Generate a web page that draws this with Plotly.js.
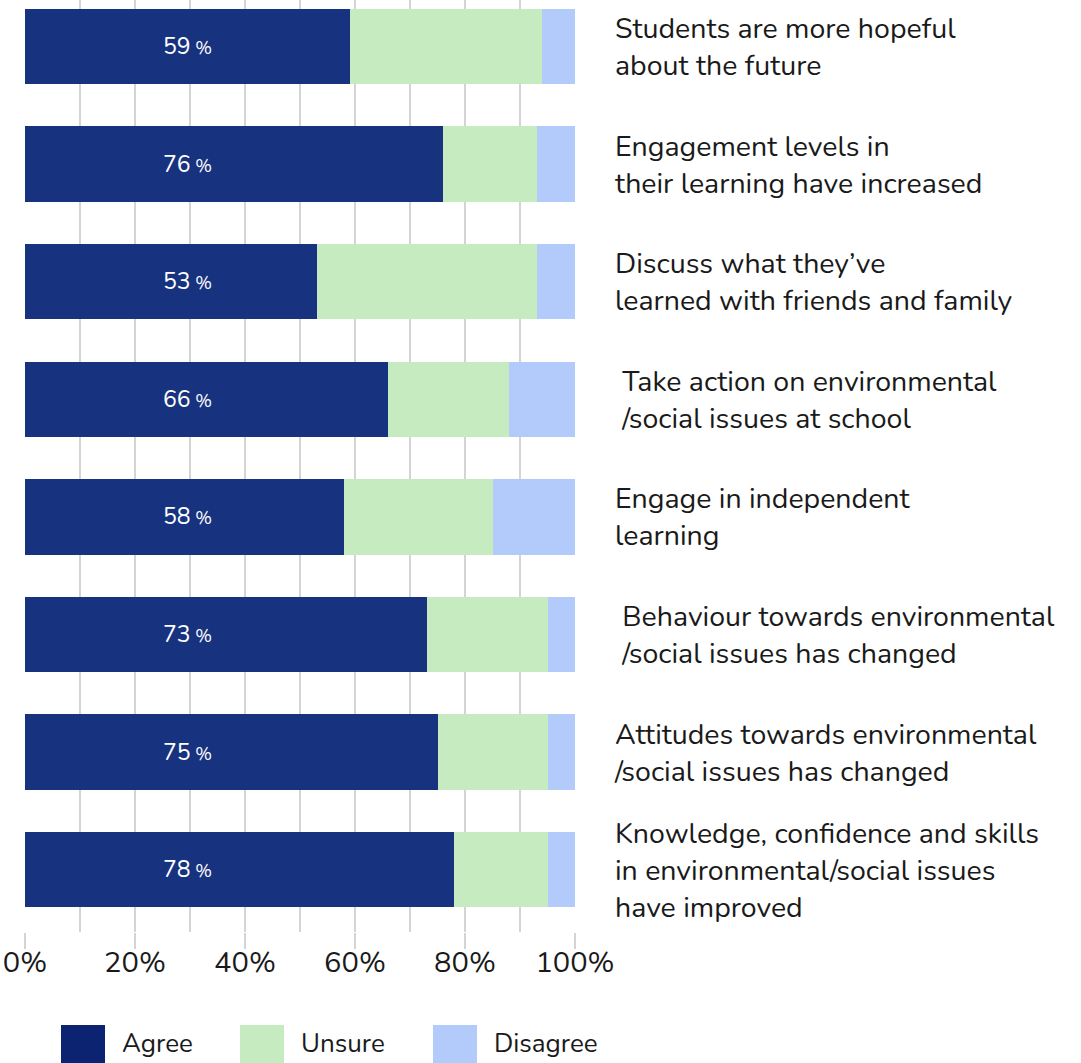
<!DOCTYPE html>
<html>
<head>
<meta charset="utf-8">
<script src="https://cdn.plot.ly/plotly-3.0.1.min.js"></script>
<style>html,body{margin:0;padding:0;background:#fff;}#chart{width:1081px;height:1063px;}</style>
</head>
<body>
<div id="chart"></div>
<script>
const categories = [
  "Students are more hopeful<br>about the future",
  "Engagement levels in<br>their learning have increased",
  "Discuss what they’ve<br>learned with friends and family",
  " Take action on environmental<br> /social issues at school",
  "Engage in independent<br>learning",
  " Behaviour towards environmental<br> /social issues has changed",
  "Attitudes towards environmental<br>/social issues has changed",
  "Knowledge, confidence and skills<br>in environmental/social issues<br>have improved"
];
const agree    = [59, 76, 53, 66, 58, 73, 75, 78];
const unsure   = [35, 17, 40, 22, 27, 22, 20, 17];
const disagree = [ 6,  7,  7, 12, 15,  5,  5,  5];
const seriesNames = ["Agree", "Unsure", "Disagree"];
const xTickVals = [0, 20, 40, 60, 80, 100];
const xTickText = ["0%", "20%", "40%", "60%", "80%", "100%"];

const colors = ["#17337f", "#c7ebc1", "#b3cbfa"];
const legendColors = ["#0b2370", "#c7ebc1", "#b3cbfa"];
const FONT = "Nunito, 'Noto Sans', 'Open Sans', sans-serif";

const W = 1081, H = 1063;
const ml = 25, mr = 506, mt = 0, mb = 131;
const pw = W - ml - mr, ph = H - mt - mb;
const px2x = x => (x - ml) / pw;
const px2y = y => (H - mb - y) / ph;

const seriesValues = [agree, unsure, disagree];
const traces = seriesValues.map((vals, k) => ({
  type: "bar",
  orientation: "h",
  name: seriesNames[k],
  x: vals,
  y: categories,
  marker: {color: colors[k], line: {width: 0}},
  showlegend: false,
  hoverinfo: "x+name"
}));

const annotations = agree.map((v, i) => ({
  x: 29.6, y: categories[i], xref: "x", yref: "y",
  text: v + '<span style="font-size:18px"> %</span>',
  showarrow: false,
  font: {family: FONT, size: 23, color: "#ffffff"},
  xanchor: "center", yanchor: "middle"
}));

// legend drawn with shapes + annotations
const legendX = [61, 240, 433];
const shapes = [];
seriesNames.forEach((n, k) => {
  shapes.push({
    type: "rect", xref: "paper", yref: "paper",
    x0: px2x(legendX[k]), x1: px2x(legendX[k] + 44),
    y0: px2y(1025), y1: px2y(1066),
    fillcolor: legendColors[k], line: {width: 0}
  });
  annotations.push({
    xref: "paper", yref: "paper",
    x: px2x(legendX[k] + 59), y: px2y(1043),
    text: n, showarrow: false,
    xanchor: "left", yanchor: "middle",
    font: {family: FONT, size: 26, color: "#1a1a1a"}
  });
});

const layout = {
  width: W, height: H,
  margin: {l: ml, r: mr, t: mt, b: mb, pad: 0},
  paper_bgcolor: "#ffffff",
  plot_bgcolor: "#ffffff",
  barmode: "stack",
  bargap: 0.36,
  showlegend: false,
  xaxis: {
    range: [0, 100],
    tickvals: xTickVals,
    ticktext: xTickText,
    ticklabeloverflow: "allow",
    showgrid: true,
    gridcolor: "#d4d4d4",
    gridwidth: 2,
    ticks: "outside",
    ticklen: 16,
    tickwidth: 2,
    tickcolor: "#d4d4d4",
    ticklabelstandoff: -12,
    minor: {dtick: 10, tick0: 0, showgrid: true, gridcolor: "#d4d4d4", gridwidth: 2, ticks: "", ticklen: 0},
    zeroline: false,
    showline: false,
    tickfont: {family: FONT, size: 29, color: "#1a1a1a"},
    fixedrange: true
  },
  yaxis: {
    type: "category",
    range: [7.53, -0.395],
    side: "right",
    showgrid: false,
    zeroline: false,
    showline: false,
    ticks: "",
    ticklabelstandoff: 39,
    tickfont: {family: FONT, size: 28.5, color: "#1a1a1a"},
    fixedrange: true
  },
  shapes: shapes,
  annotations: annotations
};

Plotly.newPlot("chart", traces, layout, {displayModeBar: false, staticPlot: true});
</script>
</body>
</html>
